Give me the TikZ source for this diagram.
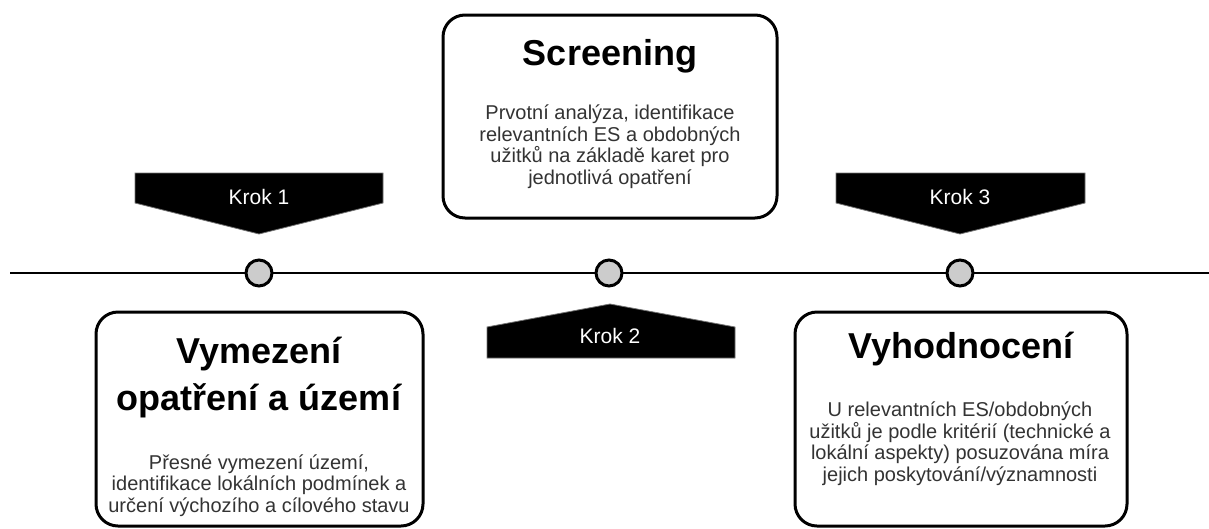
\documentclass[tikz,border=0pt]{standalone}
\usepackage{fontspec}
\setmainfont{Liberation Sans}
\definecolor{bodygray}{HTML}{333333}
\definecolor{dotgray}{HTML}{CCCCCC}
\tikzset{
  card/.style={draw=black, line width=3pt, rounded corners=22pt, fill=white},
  cardtitle/.style={font=\bfseries\fontsize{36}{47}\selectfont, text=black, align=center, inner sep=0pt, anchor=base},
  cardbody/.style={font=\fontsize{20}{21.5}\selectfont, text=bodygray, align=center, inner sep=0pt, anchor=base},
  steplabel/.style={font=\fontsize{21}{24}\selectfont, text=white, inner sep=0pt},
  stepshape/.style={fill=black, draw=black!55, line width=0.8pt},
  dot/.style={circle, draw=black, line width=3pt, fill=dotgray, minimum size=26pt, inner sep=0pt},
  timeline/.style={draw=black, line width=2pt}
}
\begin{document}
\begin{tikzpicture}[x=1pt,y=-1pt]
\useasboundingbox (0,0) rectangle (1209,528);
% timeline
\coordinate (L) at (10,273);
\coordinate (R) at (1209,273);
\draw[timeline] (L) -- (R);
% step shapes
\draw[stepshape] (135,173) -- (383,173) -- (383,203) -- (259,234) -- (135,203) -- cycle;
\node[steplabel] (k1) at (259,197) {Krok 1};
\draw[stepshape] (836,173) -- (1085,173) -- (1085,203) -- (960,234) -- (836,203) -- cycle;
\node[steplabel] (k3) at (960,197) {Krok 3};
\draw[stepshape] (487,358) -- (487,327) -- (610,304) -- (735,327) -- (735,358) -- cycle;
\node[steplabel] (k2) at (610,336) {Krok 2};
% dots
\node[dot] (d1) at (259,273) {};
\node[dot] (d2) at (609,273) {};
\node[dot] (d3) at (960,273) {};
% cards (base anchor = baseline of the last line)
\draw[card] (443,15) rectangle (777,218);
\node[cardtitle] (t2) at (610,65) {Screening};
\node[cardbody] (b2) at (610,184) {Prvotní analýza, identifikace\\relevantních ES a obdobných\\užitků na základě karet pro\\jednotlivá opatření};
\draw[card] (96,312) rectangle (423,526);
\node[cardtitle] (t1) at (259,410) {Vymezení\\opatření a území};
\node[cardbody] (b1) at (259,512) {Přesné vymezení území,\\identifikace lokálních podmínek a\\určení výchozího a cílového stavu};
\draw[card] (795,312) rectangle (1127,526);
\node[cardtitle] (t3) at (961,358) {Vyhodnocení};
\node[cardbody] (b3) at (960,481) {U relevantních ES/obdobných\\užitků je podle kritérií (technické a\\lokální aspekty) posuzována míra\\jejich poskytování/významnosti};
\end{tikzpicture}
\end{document}
